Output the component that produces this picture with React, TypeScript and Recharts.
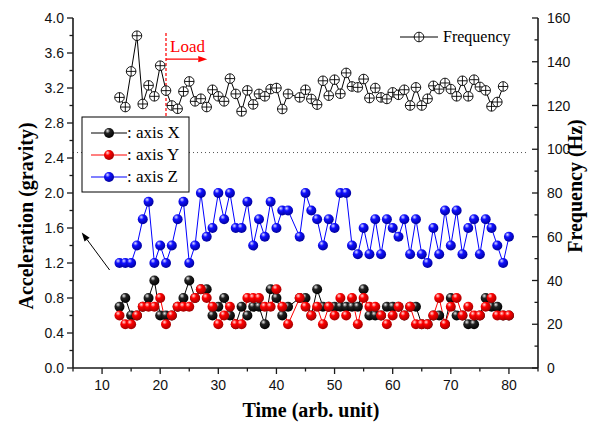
import React from "react";
import { LineChart, Line, XAxis, YAxis, ReferenceLine } from "recharts";

// time points (t = 43 is missing in the record)
const time = [
  13, 14, 15, 16, 17, 18, 19, 20, 21, 22, 23, 24, 25, 26, 27, 28, 29, 30, 31, 32,
  33, 34, 35, 36, 37, 38, 39, 40, 41, 42, 44, 45, 46, 47, 48, 49, 50, 51, 52, 53,
  54, 55, 56, 57, 58, 59, 60, 61, 62, 63, 64, 65, 66, 67, 68, 69, 70, 71, 72, 73,
  74, 75, 76, 77, 78, 79, 80,
];

const axisX = [
  0.7, 0.8, 0.6, 0.6, 0.7, 0.8, 1.0, 0.6, 0.6, 0.6, 0.7, 0.8, 1.0, 0.8, 0.9, 0.9, 0.6, 0.7, 0.8, 0.6,
  0.5, 0.7, 0.6, 0.7, 0.7, 0.5, 0.9, 0.8, 0.6, 0.7, 0.8, 0.8, 0.6, 0.9, 0.7, 0.7, 0.7, 0.7, 0.7, 0.7,
  0.7, 0.9, 0.6, 0.6, 0.6, 0.7, 0.7, 0.7, 0.6, 0.7, 0.7, 0.5, 0.5, 0.6, 0.6, 0.5, 0.8, 0.6, 0.6, 0.5,
  0.5, 0.6, 0.8, 0.7, 0.7, 0.6, 0.6,
];

const axisY = [
  0.6, 0.5, 0.5, 0.6, 0.7, 0.7, 0.7, 0.8, 0.5, 0.6, 0.7, 0.7, 0.7, 0.8, 0.9, 0.8, 0.7, 0.5, 0.6, 0.7,
  0.5, 0.5, 0.8, 0.8, 0.8, 0.7, 0.7, 0.9, 0.7, 0.5, 0.8, 0.7, 0.6, 0.7, 0.5, 0.7, 0.6, 0.8, 0.6, 0.8,
  0.5, 0.8, 0.7, 0.7, 0.6, 0.5, 0.6, 0.7, 0.6, 0.7, 0.5, 0.5, 0.5, 0.6, 0.8, 0.5, 0.7, 0.8, 0.6, 0.7,
  0.6, 0.6, 0.7, 0.8, 0.6, 0.6, 0.6,
];

const axisZ = [
  1.2, 1.2, 1.2, 1.4, 1.7, 1.9, 1.2, 1.4, 1.2, 1.4, 1.7, 1.9, 1.2, 1.4, 2.0, 1.5, 1.6, 2.0, 1.7, 2.0,
  1.6, 1.6, 1.9, 1.4, 1.7, 1.5, 1.9, 1.6, 1.8, 1.8, 1.5, 2.0, 1.8, 1.7, 1.4, 1.7, 1.6, 2.0, 2.0, 1.4,
  1.3, 1.6, 1.3, 1.7, 1.3, 1.7, 1.6, 1.5, 1.7, 1.3, 1.7, 1.3, 1.2, 1.6, 1.3, 1.8, 1.4, 1.8, 1.3, 1.6,
  1.7, 1.3, 1.7, 1.6, 1.4, 1.2, 1.5,
];

const frequency = [
  123.7, 119.3, 135.6, 151.9, 120.7, 129.2, 124.2, 138.2, 126.8, 120.0, 118.5, 126.4, 131.0, 121.9,
  123.1, 119.3, 127.2, 124.2, 121.9, 132.3, 125.3, 117.3, 126.9, 120.5, 125.3, 124.2, 127.5, 128.0,
  118.4, 125.3, 123.7, 127.2, 123.0, 120.4, 131.3, 124.5, 131.8, 125.4, 134.9, 128.7, 128.3, 132.1,
  123.4, 128.0, 123.7, 123.0, 126.0, 124.9, 127.2, 120.0, 128.3, 120.0, 123.1, 129.0, 127.5, 130.3,
  127.5, 124.2, 131.3, 124.2, 131.8, 128.5, 126.9, 119.6, 121.6, 128.7, null,
];

const xTicks = [5, 10, 15, 20, 25, 30, 35, 40, 45, 50, 55, 60, 65, 70, 75, 80, 85];
const accTicks = [0, 0.2, 0.4, 0.6, 0.8, 1.0, 1.2, 1.4, 1.6, 1.8, 2.0, 2.2, 2.4, 2.6, 2.8, 3.0, 3.2, 3.4, 3.6, 3.8, 4.0];
const freqTicks = [0, 10, 20, 30, 40, 50, 60, 70, 80, 90, 100, 110, 120, 130, 140, 150, 160];

const data = time.map((t, i) => ({
  t,
  x: axisX[i],
  y: axisY[i],
  z: axisZ[i],
  f: frequency[i],
}));

const SERIF = "'Liberation Serif', 'Times New Roman', serif";
const SANS = "'Liberation Sans', Arial, sans-serif";
const AXIS = "#1a1a1a";

function Ball({ cx, cy, grad }: any) {
  if (cx == null || cy == null) return <g />;
  return <circle cx={cx} cy={cy} r={5} fill={`url(#${grad})`} />;
}

function FreqMark({ cx, cy }: any) {
  if (cx == null || cy == null) return <g />;
  const r = 4.8;
  return (
    <g stroke="#000" strokeWidth={0.9}>
      <circle cx={cx} cy={cy} r={r} fill="#fff" />
      <line x1={cx - r} y1={cy} x2={cx + r} y2={cy} />
      <line x1={cx} y1={cy - r} x2={cx} y2={cy + r} />
    </g>
  );
}

function BottomTick({ x, y, payload }: any) {
  const major = payload.value % 10 === 0;
  return (
    <g>
      <line x1={x} y1={y} x2={x} y2={y + (major ? 6 : 3.5)} stroke={AXIS} strokeWidth={1.3} />
      {major && (
        <text x={x} y={y + 22} textAnchor="middle" fontFamily={SANS} fontSize={14} fill="#111">
          {payload.value}
        </text>
      )}
    </g>
  );
}

function TopTick({ x, y, payload }: any) {
  const major = payload.value % 10 === 0;
  return <line x1={x} y1={y} x2={x} y2={y + (major ? 5 : 3)} stroke={AXIS} strokeWidth={1.2} />;
}

function LeftTick({ x, y, payload }: any) {
  const v = payload.value;
  const major = Math.round(v * 10) % 4 === 0;
  return (
    <g>
      <line x1={x} y1={y} x2={x - (major ? 6 : 3.5)} y2={y} stroke={AXIS} strokeWidth={1.3} />
      {major && (
        <text x={x - 9} y={y + 5} textAnchor="end" fontFamily={SANS} fontSize={14} fill="#111">
          {v.toFixed(1)}
        </text>
      )}
    </g>
  );
}

function RightTick({ x, y, payload }: any) {
  const v = payload.value;
  const major = v % 20 === 0;
  return (
    <g>
      <line x1={x} y1={y} x2={x - (major ? 6 : 3.5)} y2={y} stroke={AXIS} strokeWidth={1.3} />
      {major && (
        <text x={x + 9} y={y + 5} textAnchor="start" fontFamily={SANS} fontSize={14} fill="#111">
          {v}
        </text>
      )}
    </g>
  );
}

function Arrow({ x1, y1, x2, y2, stroke, strokeWidth, text }: any) {
  const ang = Math.atan2(y2 - y1, x2 - x1);
  const len = 9;
  const w = 3.2;
  const bx = x2 - len * Math.cos(ang);
  const by = y2 - len * Math.sin(ang);
  const px = -Math.sin(ang) * w;
  const py = Math.cos(ang) * w;
  return (
    <g>
      <line x1={x1} y1={y1} x2={bx} y2={by} stroke={stroke} strokeWidth={strokeWidth} />
      <polygon points={`${x2},${y2} ${bx + px},${by + py} ${bx - px},${by - py}`} fill={stroke} />
      {text && (
        <text x={x1 + 4} y={y1 - 7} fontFamily={SERIF} fontSize={17} fill={stroke}>
          {text}
        </text>
      )}
    </g>
  );
}

function Grad({ id, hi, mid, lo }: any) {
  return (
    <radialGradient id={id} cx="0.38" cy="0.32" r="0.7" fx="0.35" fy="0.28">
      <stop offset="0%" stopColor={hi} />
      <stop offset="35%" stopColor={mid} />
      <stop offset="100%" stopColor={lo} />
    </radialGradient>
  );
}

function Legends() {
  const rows = [
    { label: ": axis X", grad: "gBlackL", color: "#000", y: 133 },
    { label: ": axis Y", grad: "gRedL", color: "#ff0000", y: 155 },
    { label: ": axis Z", grad: "gBlueL", color: "#0000ff", y: 177 },
  ];
  return (
    <svg width={610} height={423} style={{ position: "absolute", left: 0, top: 0, pointerEvents: "none" }}>
      <defs>
        <Grad id="gBlackL" hi="#f0f0f0" mid="#222" lo="#000" />
        <Grad id="gRedL" hi="#ffe0e0" mid="#ff0000" lo="#a00000" />
        <Grad id="gBlueL" hi="#e0e0ff" mid="#1010ff" lo="#00009a" />
      </defs>
      <rect x={82} y={117} width={107} height={75} fill="#fff" stroke="#000" strokeWidth={1} />
      {rows.map((r) => (
        <g key={r.label}>
          <line x1={91} y1={r.y} x2={127} y2={r.y} stroke={r.color} strokeWidth={1} />
          <circle cx={109} cy={r.y} r={5} fill={`url(#${r.grad})`} />
          <text x={127} y={r.y + 5} fontFamily={SERIF} fontSize={17} fill="#000">
            {r.label}
          </text>
        </g>
      ))}
      <line x1={400} y1={37} x2={438} y2={37} stroke="#000" strokeWidth={1} />
      <FreqMark cx={419} cy={37} />
      <text x={443} y={42} fontFamily={SERIF} fontSize={16} fill="#000">
        Frequency
      </text>
      <text
        transform="translate(33,216) rotate(-90)"
        textAnchor="middle"
        fontFamily={SERIF}
        fontWeight="bold"
        fontSize={20}
        fill="#000"
      >
        Acceleration (gravity)
      </text>
      <text
        transform="translate(582,186) rotate(-90)"
        textAnchor="middle"
        fontFamily={SERIF}
        fontWeight="bold"
        fontSize={20}
        fill="#000"
      >
        Frequency (Hz)
      </text>
      <text x={311} y={417} textAnchor="middle" fontFamily={SERIF} fontWeight="bold" fontSize={20} fill="#000">
        Time (arb. unit)
      </text>
    </svg>
  );
}

export default function App() {
  return (
    <div style={{ position: "absolute", left: 0, top: 0, width: 610, height: 423, background: "#fff" }}>
      <LineChart width={610} height={423} data={data} margin={{ top: 18, right: 0, bottom: 0, left: 0 }}>
        <defs>
          <Grad id="gBlack" hi="#f0f0f0" mid="#222" lo="#000" />
          <Grad id="gRed" hi="#ffe0e0" mid="#ff0000" lo="#a00000" />
          <Grad id="gBlue" hi="#e0e0ff" mid="#1010ff" lo="#00009a" />
        </defs>
        <XAxis
          dataKey="t"
          type="number"
          domain={[5, 85]}
          ticks={xTicks}
          interval={0}
          height={55}
          tickLine={false}
          tickSize={0}
          tickMargin={0}
          tick={<BottomTick />}
          axisLine={{ stroke: AXIS, strokeWidth: 1.6 }}
        />
        <XAxis
          xAxisId="top"
          orientation="top"
          dataKey="t"
          type="number"
          domain={[5, 85]}
          ticks={xTicks}
          interval={0}
          height={0}
          tickLine={false}
          tickSize={0}
          tickMargin={0}
          tick={<TopTick />}
          axisLine={{ stroke: AXIS, strokeWidth: 1.6 }}
        />
        <YAxis
          yAxisId="left"
          domain={[0, 4]}
          ticks={accTicks}
          interval={0}
          width={73}
          tickLine={false}
          tickSize={0}
          tickMargin={0}
          tick={<LeftTick />}
          axisLine={{ stroke: AXIS, strokeWidth: 1.6 }}
        />
        <YAxis
          yAxisId="right"
          orientation="right"
          domain={[0, 160]}
          ticks={freqTicks}
          interval={0}
          width={72}
          tickLine={false}
          tickSize={0}
          tickMargin={0}
          tick={<RightTick />}
          axisLine={{ stroke: AXIS, strokeWidth: 1.6 }}
        />
        <ReferenceLine
          yAxisId="right"
          segment={[
            { x: 5, y: 98.5 },
            { x: 83, y: 98.5 },
          ]}
          stroke="#555"
          strokeDasharray="1 3"
          strokeWidth={1}
          ifOverflow="visible"
        />
        <ReferenceLine
          yAxisId="left"
          segment={[
            { x: 21, y: 3.83 },
            { x: 21, y: 2.85 },
          ]}
          stroke="#ff2020"
          strokeDasharray="3 2"
          strokeWidth={1.4}
        />
        <ReferenceLine
          yAxisId="left"
          segment={[
            { x: 21, y: 3.53 },
            { x: 28.1, y: 3.53 },
          ]}
          stroke="#ff0000"
          strokeWidth={1.3}
          shape={(p: any) => <Arrow {...p} text="Load" />}
        />
        <ReferenceLine
          yAxisId="left"
          segment={[
            { x: 11.3, y: 1.12 },
            { x: 6.5, y: 1.55 },
          ]}
          stroke="#000"
          strokeWidth={1}
          shape={(p: any) => <Arrow {...p} />}
        />
        <Line
          yAxisId="right"
          dataKey="f"
          stroke="#000"
          strokeWidth={1}
          connectNulls
          isAnimationActive={false}
          dot={(p: any) => <FreqMark key={`f${p.index}`} cx={p.cx} cy={p.cy} />}
        />
        <Line
          yAxisId="left"
          dataKey="z"
          stroke="#0000ff"
          strokeWidth={1}
          isAnimationActive={false}
          dot={(p: any) => <Ball key={`z${p.index}`} cx={p.cx} cy={p.cy} grad="gBlue" />}
        />
        <Line
          yAxisId="left"
          dataKey="x"
          stroke="#000"
          strokeWidth={1}
          isAnimationActive={false}
          dot={(p: any) => <Ball key={`x${p.index}`} cx={p.cx} cy={p.cy} grad="gBlack" />}
        />
        <Line
          yAxisId="left"
          dataKey="y"
          stroke="#ff0000"
          strokeWidth={1}
          isAnimationActive={false}
          dot={(p: any) => <Ball key={`y${p.index}`} cx={p.cx} cy={p.cy} grad="gRed" />}
        />
      </LineChart>
      <Legends />
    </div>
  );
}
